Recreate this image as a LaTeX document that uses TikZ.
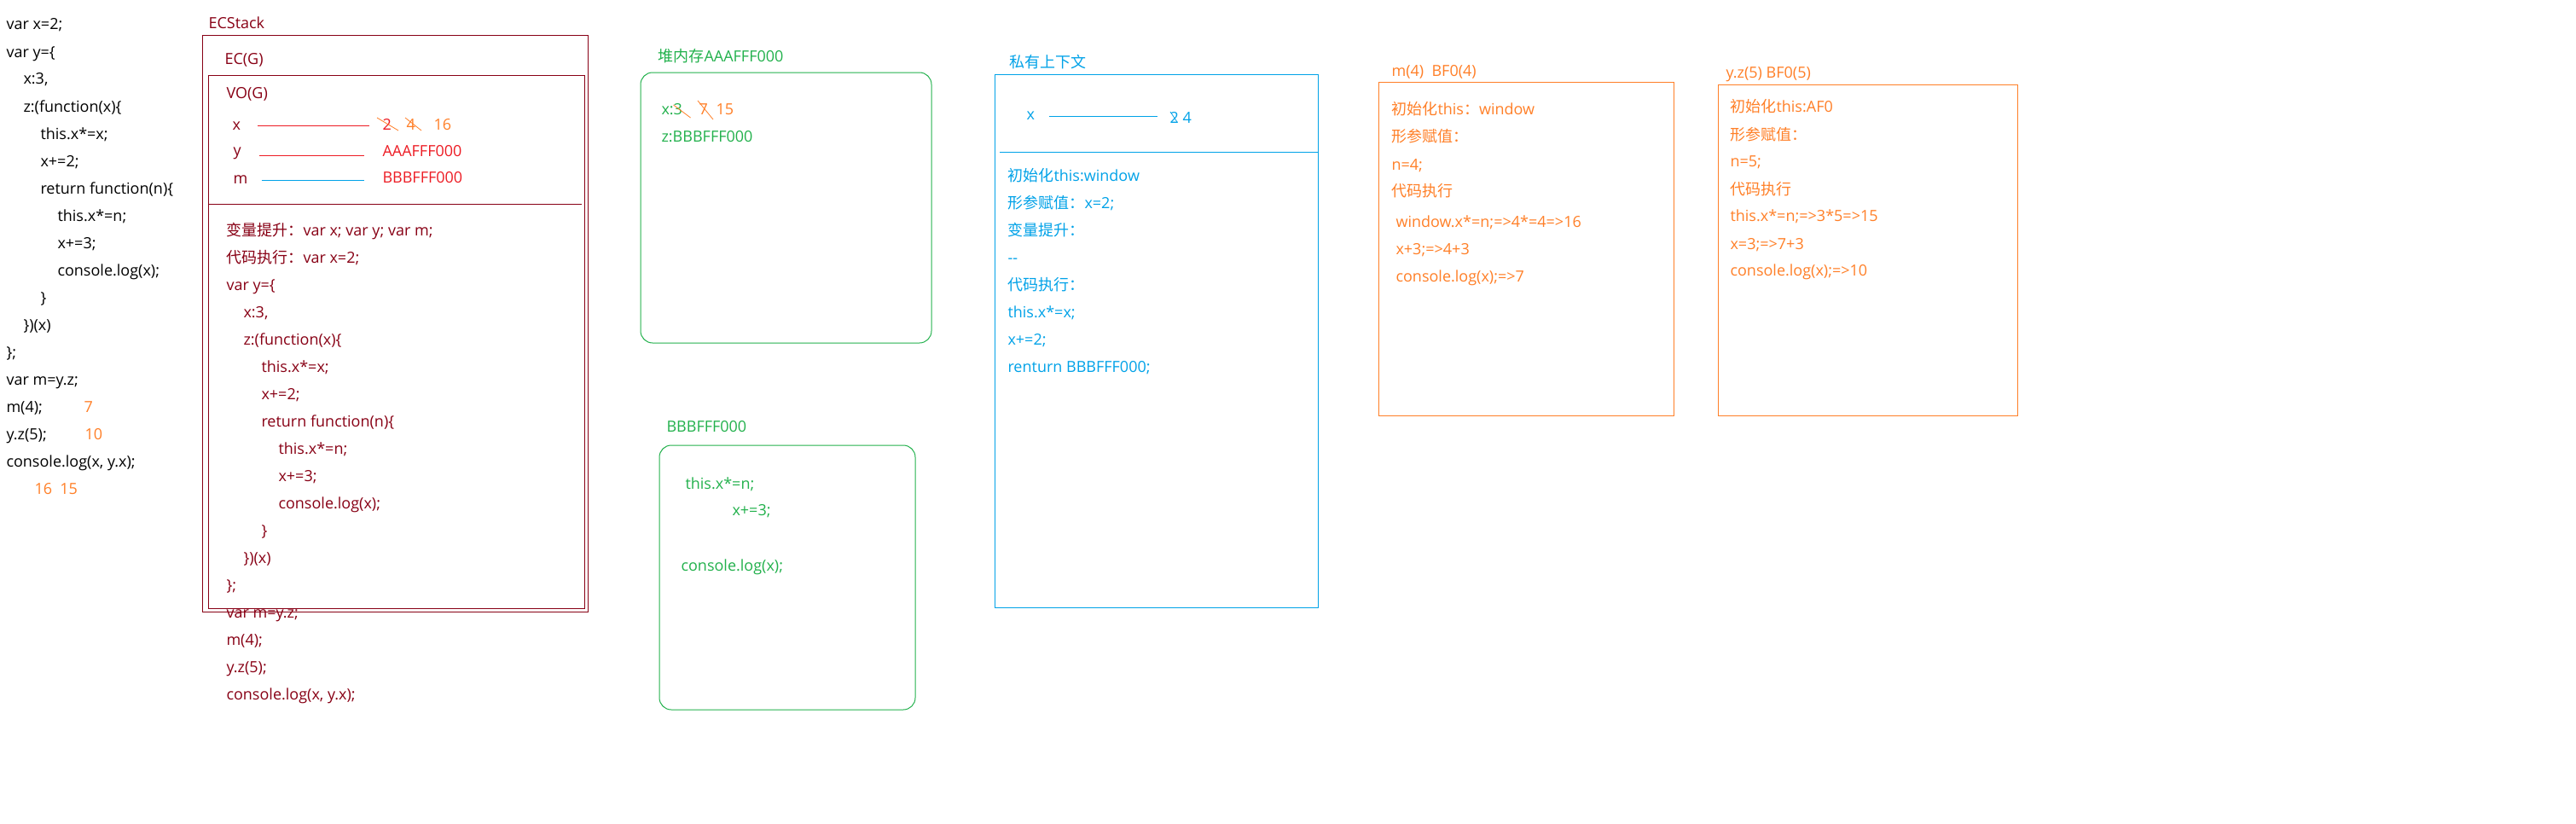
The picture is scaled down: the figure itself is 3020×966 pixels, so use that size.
\documentclass[tikz,border=0pt]{standalone}
\usepackage{fontspec}
\setmainfont{Open Sans}
\newfontfamily\cjk{Noto Sans CJK SC}
\definecolor{ecred}{HTML}{880015}
\definecolor{pred}{HTML}{ED1C24}
\definecolor{porange}{HTML}{FF7F27}
\definecolor{pgreen}{HTML}{22B14C}
\definecolor{pblue}{HTML}{00A2E8}
\tikzset{
  txt/.style={anchor=base west, inner sep=0pt, font=\fontsize{18}{18}\selectfont},
  ecs/.style={txt, text=ecred},
  heap/.style={txt, text=pgreen},
  priv/.style={txt, text=pblue},
  call/.style={txt, text=porange},
  strike/.style={line width=0.8pt},
}
\begin{document}
\begin{tikzpicture}[x=1pt,y=-1pt,line width=1pt]
            \path [use as bounding box, fill=white] (0,0) rectangle (3020,966);
            % source code
            \node [txt] (s1)  at (7,35)   {var x=2;};
            \node [txt] (s2)  at (7,67)   {var y=\{};
            \node [txt] (s3)  at (27,99)  {x:3,};
            \node [txt] (s4)  at (27,131) {z:(function(x)\{};
            \node [txt] (s5)  at (47,163) {this.x*=x;};
            \node [txt] (s6)  at (47,195) {x+=2;};
            \node [txt] (s7)  at (47,227) {return function(n)\{};
            \node [txt] (s8)  at (67,259) {this.x*=n;};
            \node [txt] (s9)  at (67,291) {x+=3;};
            \node [txt] (s10) at (67,323) {console.log(x);};
            \node [txt] (s11) at (47,355) {\}};
            \node [txt] (s12) at (27,387) {\})(x)};
            \node [txt] (s13) at (7,419)  {\};};
            \node [txt] (s14) at (7,451)  {var m=y.z;};
            \node [txt] (s15) at (7,483)  {m(4);};
            \node [txt] (s16) at (7,515)  {y.z(5);};
            \node [txt] (s17) at (7,547)  {console.log(x, y.x);};
            \node [call] (o1) at (98,483) {7};
            \node [call] (o2) at (99,515) {10};
            \node [call] (o3) at (40,579) {16\ \ 15};
            % ECStack
            \node [ecs] (ecs) at (244,33.5) {ECStack};
            \draw [ecred] (237,42) rectangle (689,717);
            \node [ecs] (ecg) at (263,75.5) {EC(G)};
            \draw [ecred] (244,88) rectangle (685,713);
            \node [ecs] (vog) at (265,115.5) {VO(G)};
            \node [ecs] (vx) at (272,152)   {x};
            \node [ecs] (vy) at (273,182.5) {y};
            \node [ecs] (vm) at (273,215)   {m};
            \node [txt, text=pred] (ax1) at (448,152.5) {2};
            \node [call] (ax2) at (476,152.5) {4};
            \node [call] (ax3) at (508,152.5) {16};
            \node [txt, text=pred] (ay) at (448,183.5) {AAAFFF000};
            \node [txt, text=pred] (am) at (448,214.5) {BBBFFF000};
            \draw [pred, shorten <=20pt, shorten >=15pt] ([yshift=5pt]vx.base east) -- ([yshift=5pt]vx.base east -| ax1.west);
            \draw [pred, shorten <=21pt, shorten >=21pt] (vy.base east) -- (vy.base east -| ay.west);
            \draw [pblue, shorten <=16pt, shorten >=21pt] ([yshift=4pt]vm.base east) -- ([yshift=4pt]vm.base east -| am.west);
            \draw [porange, strike] ([shift={(-6,-14.5)}]ax1.base west) -- ([shift={(19,0.5)}]ax1.base west);
            \draw [porange, strike] ([shift={(-1,-14.5)}]ax2.base west) -- ([shift={(18,0.5)}]ax2.base west);
            \draw [ecred] (244,239) -- (682,239);
            \node [ecs] (e1)  at (265,276.5) {{\cjk 变量提升：}var x; var y; var m;};
            \node [ecs] (e2)  at (265,308.5) {{\cjk 代码执行：}var x=2;};
            \node [ecs] (e3)  at (265,340.5) {var y=\{};
            \node [ecs] (e4)  at (285,372.5) {x:3,};
            \node [ecs] (e5)  at (285,404.5) {z:(function(x)\{};
            \node [ecs] (e6)  at (306,436.5) {this.x*=x;};
            \node [ecs] (e7)  at (306,468.5) {x+=2;};
            \node [ecs] (e8)  at (306,500.5) {return function(n)\{};
            \node [ecs] (e9)  at (326,532.5) {this.x*=n;};
            \node [ecs] (e10) at (326,564.5) {x+=3;};
            \node [ecs] (e11) at (326,596.5) {console.log(x);};
            \node [ecs] (e12) at (306,628.5) {\}};
            \node [ecs] (e13) at (285,660.5) {\})(x)};
            \node [ecs] (e14) at (265,692.5) {\};};
            \node [ecs] (e15) at (265,724.5) {var m=y.z;};
            \node [ecs] (e16) at (265,756.5) {m(4);};
            \node [ecs] (e17) at (265,788.5) {y.z(5);};
            \node [ecs] (e18) at (265,820.5) {console.log(x, y.x);};
            % heap AAAFFF000
            \node [heap] (hl) at (771,72.5) {{\cjk 堆内存}AAAFFF000};
            \draw [pgreen, rounded corners=14pt] (751,85) rectangle (1092,402);
            \node [heap] (hx)  at (775,134.5) {x:3};
            \node [call] (hx2) at (819,134.5) {7};
            \node [call] (hx3) at (839,134.5) {15};
            \node [heap] (hz)  at (775,166.5) {z:BBBFFF000};
            \draw [porange, strike] ([shift={(-11,-11.5)}]hx.base east) -- ([shift={(9,3.5)}]hx.base east);
            \draw [porange, strike] ([shift={(-1,-16.5)}]hx2.base west) -- ([shift={(17,5.5)}]hx2.base west);
            % heap BBBFFF000
            \node [heap] (bl) at (781,506.5) {BBBFFF000};
            \draw [pgreen, rounded corners=14pt] (773,522) rectangle (1073,832);
            \node [heap] (b1) at (803,573.5) {this.x*=n;};
            \node [heap] (b2) at (858,604.5) {x+=3;};
            \node [heap] (b3) at (798,669.5) {console.log(x);};
            % private context
            \node [priv] (pl) at (1183,79.5) {\cjk 私有上下文};
            \draw [pblue] (1166,87) rectangle (1545,712);
            \node [priv] (px)  at (1203,140) {x};
            \node [priv] (pv1) at (1371,144) {2};
            \node [priv] (pv2) at (1386,144) {4};
            \draw [pblue, shorten <=17pt, shorten >=14pt] ([yshift=4pt]px.base east) -- ([yshift=4pt]px.base east -| pv1.west);
            \draw [pblue, strike] ([shift={(1,-13)}]pv1.base west) -- ([shift={(9,-1)}]pv1.base west);
            \draw [pblue] (1172,178.5) -- (1545,178.5);
            \node [priv] (p1) at (1181,212) {{\cjk 初始化}this:window};
            \node [priv] (p2) at (1181,244) {{\cjk 形参赋值：}x=2;};
            \node [priv] (p3) at (1181,276) {\cjk 变量提升：};
            \node [priv] (p4) at (1181,308) {-{}-};
            \node [priv] (p5) at (1181,340) {\cjk 代码执行：};
            \node [priv] (p6) at (1181,372) {this.x*=x;};
            \node [priv] (p7) at (1181,404) {x+=2;};
            \node [priv] (p8) at (1181,436) {renturn BBBFFF000;};
            % m(4)
            \node [call] (ml) at (1631,89.5) {m(4)\ \ BF0(4)};
            \draw [porange] (1616,96) rectangle (1962,487);
            \node [call] (m1) at (1631,134.5) {{\cjk 初始化}this{\cjk ：}window};
            \node [call] (m2) at (1631,166.5) {\cjk 形参赋值：};
            \node [call] (m3) at (1631,199.5) {n=4;};
            \node [call] (m4) at (1631,230.5) {\cjk 代码执行};
            \node [call] (m5) at (1636,266.5) {window.x*=n;=>4*=4=>16};
            \node [call] (m6) at (1636,298.5) {x+3;=>4+3};
            \node [call] (m7) at (1636,330.5) {console.log(x);=>7};
            % y.z(5)
            \node [call] (yl) at (2023,91.5) {y.z(5) BF0(5)};
            \draw [porange] (2014,99) rectangle (2365,487);
            \node [call] (y1) at (2028,131.5) {{\cjk 初始化}this:AF0};
            \node [call] (y2) at (2028,164.5) {\cjk 形参赋值：};
            \node [call] (y3) at (2028,195.5) {n=5;};
            \node [call] (y4) at (2028,228.5) {\cjk 代码执行};
            \node [call] (y5) at (2028,259.5) {this.x*=n;=>3*5=>15};
            \node [call] (y6) at (2028,292.5) {x=3;=>7+3};
            \node [call] (y7) at (2028,323.5) {console.log(x);=>10};
        \end{tikzpicture}
\end{document}
